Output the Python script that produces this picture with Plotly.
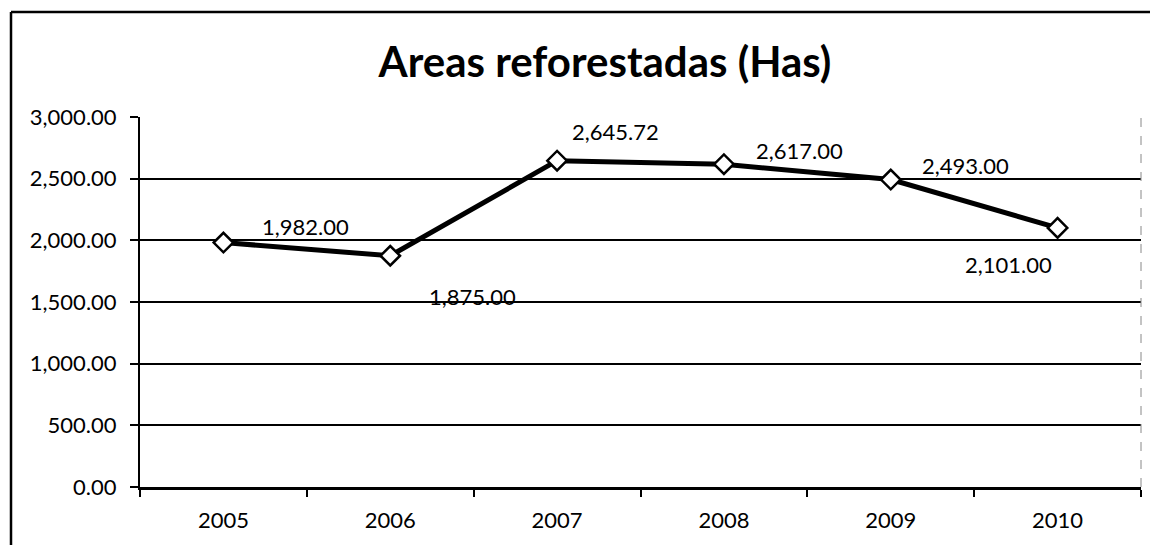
import plotly.graph_objects as go

years = ["2005", "2006", "2007", "2008", "2009", "2010"]
areas = [1982.00, 1875.00, 2645.72, 2617.00, 2493.00, 2101.00]
labels = ["1,982.00", "1,875.00", "2,645.72", "2,617.00", "2,493.00", "2,101.00"]
label_offsets = [(82, 16), (82, -41), (58, 29), (76, 14), (75, 14), (-49, -37)]

FONT = "Lato"

fig = go.Figure()
fig.add_trace(go.Scatter(
    x=years, y=areas, mode="lines+markers",
    line=dict(color="black", width=5),
    marker=dict(symbol="diamond", size=15, color="white",
                line=dict(color="black", width=2.5)),
    showlegend=False, hoverinfo="skip",
))

for i, (v, lab, (dx, dy)) in enumerate(zip(areas, labels, label_offsets)):
    fig.add_annotation(x=i, y=v, text=lab, showarrow=False,
                       xshift=dx, yshift=dy,
                       font=dict(family=FONT, size=22, color="black"))

# page body adds an 8px offset
OFF = 8
W, H = 1150, 537
ml, mr, mt, mb = 140 - OFF, 17, 117 - OFF, 58
pw, ph = W - ml - mr, H - mt - mb

# outer frame (left and top edges)
fx0 = (11 - OFF - ml) / pw
fy0 = 1 + (mt - (12 - OFF)) / ph
fig.add_shape(type="line", xref="paper", yref="paper", x0=fx0, x1=fx0,
              y0=fy0, y1=-0.3, line=dict(color="black", width=2.5))
fig.add_shape(type="line", xref="paper", yref="paper", x0=fx0, x1=1.1,
              y0=fy0, y1=fy0, line=dict(color="black", width=2.5))
# right dashed edge of plot area
fig.add_shape(type="line", xref="paper", yref="paper", x0=1, x1=1,
              y0=0, y1=1, line=dict(color="#888888", width=1, dash="dash"))

fig.update_layout(
    width=W, height=H,
    margin=dict(l=ml, r=mr, t=mt, b=mb, autoexpand=False),
    paper_bgcolor="white", plot_bgcolor="white",
    title=dict(text="<b>Areas reforestadas (Has)</b>", x=(605 - OFF) / W,
               xanchor="center", y=1 - (62 - OFF) / H, yanchor="middle",
               font=dict(family=FONT, size=42, color="black")),
    font=dict(family=FONT, color="black"),
)
fig.update_xaxes(
    type="category", categoryorder="array", categoryarray=years,
    range=[-0.5, len(years) - 0.5], automargin=False, tickangle=0,
    showgrid=False, showline=True, linecolor="black", linewidth=2.5,
    ticks="outside", tickson="boundaries", ticklen=7, tickwidth=2, tickcolor="black",
    ticklabelstandoff=12,
    tickfont=dict(family=FONT, size=22, color="black"), zeroline=False,
)
fig.update_yaxes(
    range=[0, 3000], dtick=500, tickformat=",.2f", automargin=False,
    showgrid=True, gridcolor="black", gridwidth=1.5,
    showline=True, linecolor="black", linewidth=2,
    ticks="outside", ticklen=8, tickwidth=2, tickcolor="black",
    ticklabelstandoff=9,
    tickfont=dict(family=FONT, size=22, color="black"), zeroline=False,
)

fig.write_html("out.html")
